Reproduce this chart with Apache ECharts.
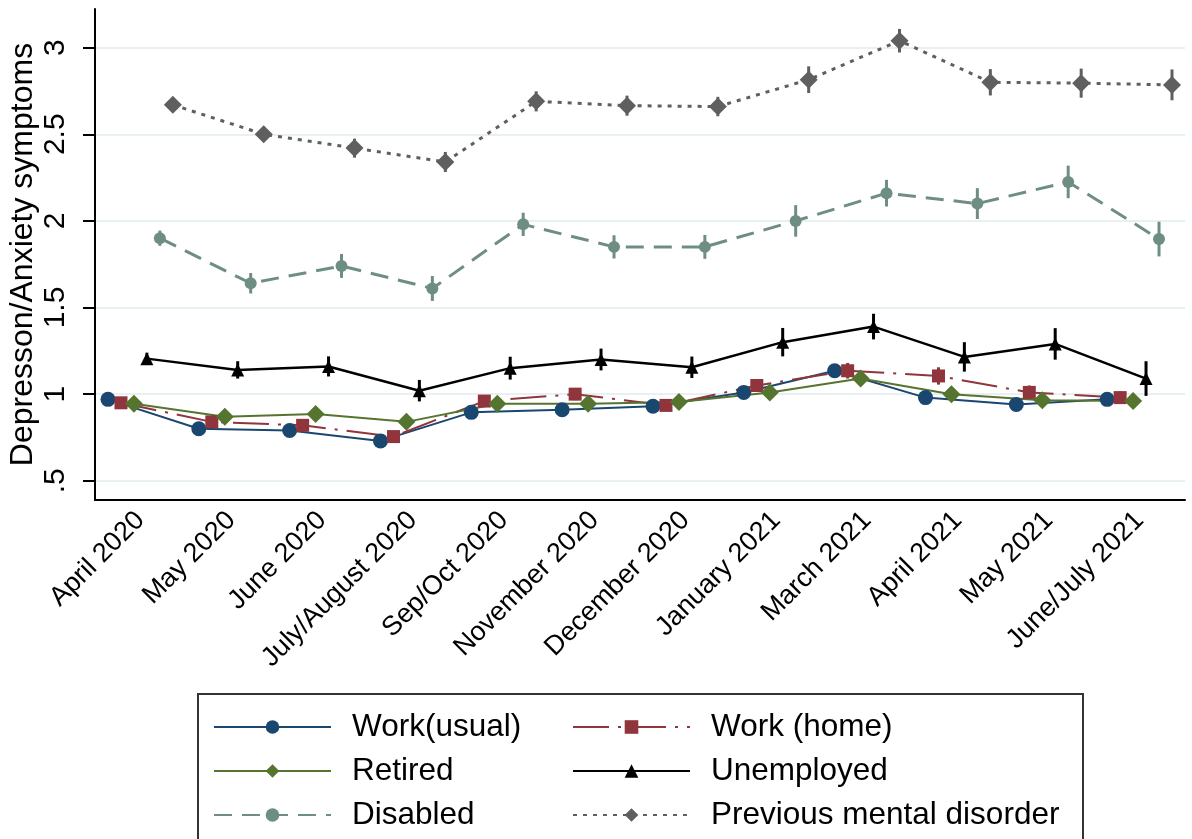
<!DOCTYPE html>
<html>
<head>
<meta charset="utf-8">
<title>Depression/Anxiety symptoms by group</title>
<script src="https://cdn.jsdelivr.net/npm/echarts@6/dist/echarts.min.js"></script>
<style>
  html, body { margin: 0; padding: 0; background: #ffffff; }
  #chart { width: 1192px; height: 839px; }
</style>
</head>
<body>
<div id="chart"></div>
<script>
// Survey waves (x categories)
const months = ['April 2020', 'May 2020', 'June 2020', 'July/August 2020', 'Sep/Oct 2020',
  'November 2020', 'December 2020', 'January 2021', 'March 2021', 'April 2021', 'May 2021', 'June/July 2021'];

// y-axis ticks and their printed labels
const yTicks = [0.5, 1, 1.5, 2, 2.5, 3];
const yTickLabels = ['.5', '1', '1.5', '2', '2.5', '3'];

// Group names
const groupNames = ['Work(usual)', 'Work (home)', 'Retired', 'Unemployed', 'Disabled', 'Previous mental disorder'];

// Mean symptom scores per wave
const workUsual  = [0.97, 0.80, 0.79, 0.73, 0.895, 0.91, 0.93, 1.01, 1.135, 0.98, 0.94, 0.97];
const workHome   = [0.95, 0.84, 0.82, 0.755, 0.96, 1.00, 0.935, 1.05, 1.135, 1.105, 1.01, 0.98];
const retired    = [0.945, 0.87, 0.885, 0.84, 0.945, 0.945, 0.955, 1.01, 1.09, 1.00, 0.965, 0.96];
const unemployed = [1.205, 1.14, 1.16, 1.02, 1.15, 1.20, 1.155, 1.30, 1.39, 1.215, 1.29, 1.09];
const disabled   = [1.90, 1.64, 1.74, 1.61, 1.98, 1.85, 1.85, 2.00, 2.16, 2.10, 2.225, 1.895];
const previous   = [2.67, 2.50, 2.42, 2.34, 2.69, 2.665, 2.66, 2.815, 3.04, 2.80, 2.795, 2.785];

// Half-widths of the confidence intervals
const workUsualCI  = [0.02, 0.02, 0.02, 0.02, 0.025, 0.025, 0.025, 0.03, 0.035, 0.03, 0.03, 0.03];
const workHomeCI   = [0.02, 0.025, 0.025, 0.025, 0.03, 0.035, 0.03, 0.035, 0.045, 0.05, 0.04, 0.035];
const retiredCI    = [0.02, 0.02, 0.02, 0.02, 0.025, 0.025, 0.025, 0.025, 0.03, 0.03, 0.03, 0.03];
const unemployedCI = [0.034, 0.05, 0.058, 0.062, 0.066, 0.063, 0.062, 0.082, 0.074, 0.085, 0.091, 0.10];
const disabledCI   = [0.044, 0.059, 0.069, 0.072, 0.067, 0.067, 0.069, 0.091, 0.077, 0.089, 0.094, 0.10];
const previousCI   = [0.03, 0.03, 0.055, 0.058, 0.058, 0.058, 0.056, 0.077, 0.068, 0.076, 0.084, 0.089];

const FONT = '"Liberation Sans", Arial, Helvetica, sans-serif';

// Styling per group; each group is shifted sideways within its wave
const groups = [
  { name: groupNames[0], values: workUsual,  ci: workUsualCI,  color: '#1a476f', symbol: 'circle',   size: 15, line: { width: 2, type: 'solid' } },
  { name: groupNames[1], values: workHome,   ci: workHomeCI,   color: '#90353b', symbol: 'rect',     size: 13, line: { width: 2, type: [36, 9, 3, 9] } },
  { name: groupNames[2], values: retired,    ci: retiredCI,    color: '#55752f', symbol: 'diamond',  size: 18, line: { width: 2, type: 'solid' } },
  { name: groupNames[3], values: unemployed, ci: unemployedCI, color: '#000000', symbol: 'triangle', size: 13, line: { width: 2.5, type: 'solid' } },
  { name: groupNames[4], values: disabled,   ci: disabledCI,   color: '#6e8e84', symbol: 'circle',   size: 12, line: { width: 3, type: [18, 10] } },
  { name: groupNames[5], values: previous,   ci: previousCI,   color: '#5f5f5f', symbol: 'diamond',  size: 18, line: { width: 3, type: [4, 6] } }
];
const dodge = [-0.357, -0.214, -0.071, 0.071, 0.214, 0.357];

const series = [];
groups.forEach((g, k) => {
  series.push({
    name: g.name,
    type: 'line',
    xAxisIndex: 1,
    z: 4,
    data: g.values.map((v, i) => [i + dodge[k], v]),
    symbol: g.symbol,
    symbolSize: g.size,
    showAllSymbol: true,
    itemStyle: { color: g.color },
    lineStyle: { color: g.color, width: g.line.width, type: g.line.type },
    emphasis: { disabled: true }
  });
});
groups.forEach((g, k) => {
  series.push({
    name: g.name,
    type: 'custom',
    xAxisIndex: 1,
    z: 3,
    silent: true,
    encode: { x: 0, y: [1, 2] },
    data: g.values.map((v, i) => [i + dodge[k], v - g.ci[i], v + g.ci[i]]),
    renderItem: (params, api) => {
      const a = api.coord([api.value(0), api.value(1)]);
      const b = api.coord([api.value(0), api.value(2)]);
      return {
        type: 'line',
        shape: { x1: a[0], y1: a[1], x2: b[0], y2: b[1] },
        style: { stroke: g.color, lineWidth: 3 }
      };
    }
  });
});

const legendText = { fontSize: 31.5, color: '#000', fontFamily: FONT, padding: [0, 0, 0, 16] };
const legendCommon = {
  orient: 'vertical', top: 711, padding: 0, itemGap: 12,
  itemWidth: 117, itemHeight: 17, textStyle: legendText,
  selectedMode: false
};

const chart = echarts.init(document.getElementById('chart'), null, { renderer: 'canvas' });
chart.setOption({
  animation: false,
  backgroundColor: '#ffffff',
  textStyle: { fontFamily: FONT },
  grid: { left: 95, right: 7, top: 9, bottom: 339, containLabel: false, outerBoundsMode: 'none' },
  xAxis: [
    {
      type: 'category',
      data: months,
      boundaryGap: true,
      axisLine: { onZero: false, lineStyle: { color: '#000', width: 2 } },
      axisTick: { alignWithLabel: true, length: 12, lineStyle: { color: '#000', width: 2 } },
      axisLabel: { rotate: 45, margin: 16, fontSize: 27, color: '#000', fontFamily: FONT, interval: 0 },
      splitLine: { show: false }
    },
    { type: 'value', min: -0.5, max: 11.5, show: false }
  ],
  yAxis: {
    type: 'value',
    min: 0.389,
    max: 3.223,
    name: 'Depresson/Anxiety symptoms',
    nameLocation: 'middle',
    nameGap: 56,
    nameMoveOverlap: false,
    nameTextStyle: { fontSize: 32, color: '#000', fontFamily: FONT },
    axisLine: { show: true, onZero: false, lineStyle: { color: '#000', width: 2 } },
    axisTick: { show: true, length: 12, customValues: yTicks, lineStyle: { color: '#000', width: 2 } },
    axisLabel: {
      rotate: 90, margin: 24, fontSize: 30, color: '#000', fontFamily: FONT,
      customValues: yTicks,
      formatter: v => yTickLabels[yTicks.indexOf(v)] ?? ''
    },
    splitLine: { show: true, lineStyle: { color: '#e8f0f2', width: 2 } }
  },
  legend: [
    Object.assign({ data: [groupNames[0], groupNames[2], groupNames[4]], left: 213 }, legendCommon),
    Object.assign({ data: [groupNames[1], groupNames[3], groupNames[5]], left: 572 }, legendCommon)
  ],
  graphic: [{
    type: 'rect',
    shape: { x: 198, y: 694, width: 885, height: 200 },
    style: { fill: 'none', stroke: '#333', lineWidth: 2 },
    silent: true,
    z: 0
  }],
  series: series
});
</script>
</body>
</html>
